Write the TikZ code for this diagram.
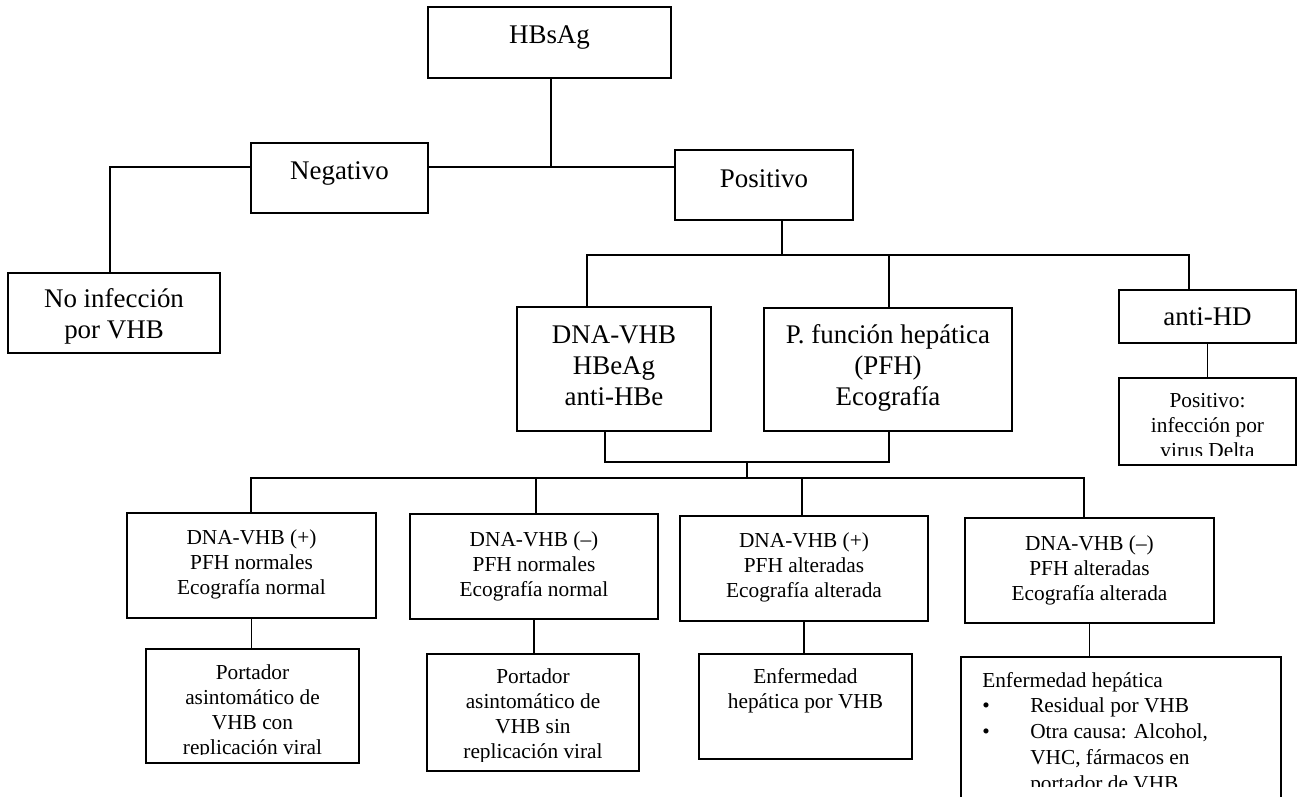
\documentclass[tikz,border=0pt]{standalone}
\usepackage{fontspec}
\setmainfont{Liberation Serif}
\begin{document}
\begin{tikzpicture}[x=0.75pt,y=-0.75pt,
  box/.style={draw, rectangle, line width=1.3pt, inner sep=0pt, outer sep=0pt},
  conn/.style={line width=1.3pt},
  big/.style={font=\fontsize{20.2pt}{23.25pt}\selectfont, align=center, anchor=base, inner sep=0pt},
  small/.style={font=\fontsize{16pt}{18.6pt}\selectfont, align=center, anchor=base, inner sep=0pt}]
\useasboundingbox (0,0) rectangle (1298,796);
\clip (0,0) rectangle (1298,796);
% boxes
\node[box, minimum width=182.25pt, minimum height=53.25pt] (hbsag) at (549.5,42.5) {};
\node[box, minimum width=132.75pt, minimum height=52.5pt] (neg) at (339.5,178) {};
\node[box, minimum width=133.5pt, minimum height=52.5pt] (pos) at (764,185) {};
\node[box, minimum width=159pt, minimum height=60pt] (noinf) at (114,313) {};
\node[box, minimum width=145.5pt, minimum height=93pt] (dna) at (614,369) {};
\node[box, minimum width=186pt, minimum height=92.25pt] (pfh) at (888,369.5) {};
\node[box, minimum width=132.75pt, minimum height=39.75pt] (antihd) at (1207.5,316.5) {};
\node[box, minimum width=132.75pt, minimum height=65.25pt] (posinf) at (1207.5,421.5) {};
\node[box, minimum width=186.75pt, minimum height=78.75pt] (b1) at (251.5,565.5) {};
\node[box, minimum width=186pt, minimum height=78.75pt] (b2) at (534,566.5) {};
\node[box, minimum width=186pt, minimum height=78.75pt] (b3) at (804,568.5) {};
\node[box, minimum width=186.75pt, minimum height=78.75pt] (b4) at (1089.5,570.5) {};
\node[box, minimum width=159.75pt, minimum height=85.5pt] (b5) at (252.5,706) {};
\node[box, minimum width=159pt, minimum height=87.75pt] (b6) at (533,712.5) {};
\node[box, minimum width=159.75pt, minimum height=78.75pt] (b7) at (805.5,706.5) {};
\node[box, minimum width=240pt, minimum height=122.25pt] (b8) at (1121,738.5) {};
% texts (anchored at the baseline of their last line)
\node[big] (thbsag) at (549.5,43) {HBsAg};
\node[big] (tneg) at (339.5,179) {Negativo};
\node[big] (tpos) at (764,187) {Positivo};
\node[big] (tnoinf) at (114,338) {No infección\\por VHB};
\node[big] (tdna) at (614,405) {DNA-VHB\\HBeAg\\anti-HBe};
\node[big] (tpfh) at (888,405) {P. función hepática\\(PFH)\\Ecografía};
\node[big] (tanti) at (1207.5,325) {anti-HD};
\begin{scope}
  \clip (1119,378) rectangle (1296,455);
  \node[small] (tposinf) at (1207.5,457) {Positivo:\\infección por\\virus Delta};
\end{scope}
\node[small] (t1) at (251.5,594) {DNA-VHB (+)\\PFH normales\\Ecografía normal};
\node[small] (t2) at (534,596) {DNA-VHB (–)\\PFH normales\\Ecografía normal};
\node[small] (t3) at (804,597) {DNA-VHB (+)\\PFH alteradas\\Ecografía alterada};
\node[small] (t4) at (1089.5,600) {DNA-VHB (–)\\PFH alteradas\\Ecografía alterada};
\begin{scope}
  \clip (146,649) rectangle (359,754);
  \node[small] (t5) at (252.5,754) {Portador\\asintomático de\\VHB con\\replicación viral};
\end{scope}
\begin{scope}
  \clip (427,654) rectangle (639,761);
  \node[small] (t6) at (533,758) {Portador\\asintomático de\\VHB sin\\replicación viral};
\end{scope}
\node[small] (t7) at (805.5,708) {Enfermedad\\hepática por VHB};
\begin{scope}
  \clip (961,657) rectangle (1281,786);
  \node[small, align=left, anchor=base west, font=\fontsize{16pt}{19.3pt}\selectfont] (t8) at (982,790) {Enfermedad hepática\\\makebox[36pt][l]{\textbullet}Residual por VHB\\\makebox[36pt][l]{\textbullet}Otra causa: Alcohol,\\\makebox[36pt][l]{}VHC, fármacos en\\\makebox[36pt][l]{}portador de VHB};
\end{scope}
% connectors
\coordinate (j1) at (551,167);
\coordinate (c1) at (110,167);
\draw[conn] (hbsag.south -| j1) -- (j1);
\draw[conn] (neg.east |- j1) -- (pos.west |- j1);
\draw[conn] (neg.west |- c1) -- (c1) -- (c1 |- noinf.north);
\coordinate (j2) at (782,255);
\coordinate (h2l) at (587,255);
\coordinate (h2r) at (1189,255);
\coordinate (j3) at (889,255);
\draw[conn] (pos.south -| j2) -- (j2);
\draw[conn] (h2l |- dna.north) -- (h2l) -- (h2r) -- (h2r |- antihd.north);
\draw[conn] (j3) -- (j3 |- pfh.north);
\draw[conn] (antihd.south) -- (posinf.north);
\coordinate (k1) at (605,462);
\coordinate (k2) at (889,462);
\coordinate (k3) at (747,462);
\coordinate (k4) at (747,478);
\draw[conn] (k1 |- dna.south) -- (k1) -- (k2) -- (k2 |- pfh.south);
\draw[conn] (k3) -- (k4);
\coordinate (m1) at (251,478);
\coordinate (m2) at (536,478);
\coordinate (m3) at (802,478);
\coordinate (m4) at (1084,478);
\draw[conn] (m1 |- b1.north) -- (m1) -- (m4) -- (m4 |- b4.north);
\draw[conn] (m2) -- (m2 |- b2.north);
\draw[conn] (m3) -- (m3 |- b3.north);
\draw[conn] (b1.south) -- (b1.south |- b5.north);
\draw[conn] (b2.south) -- (b2.south |- b6.north);
\draw[conn] (b3.south) -- (b3.south |- b7.north);
\draw[conn] (b4.south) -- (b4.south |- b8.north);
\end{tikzpicture}
\end{document}
